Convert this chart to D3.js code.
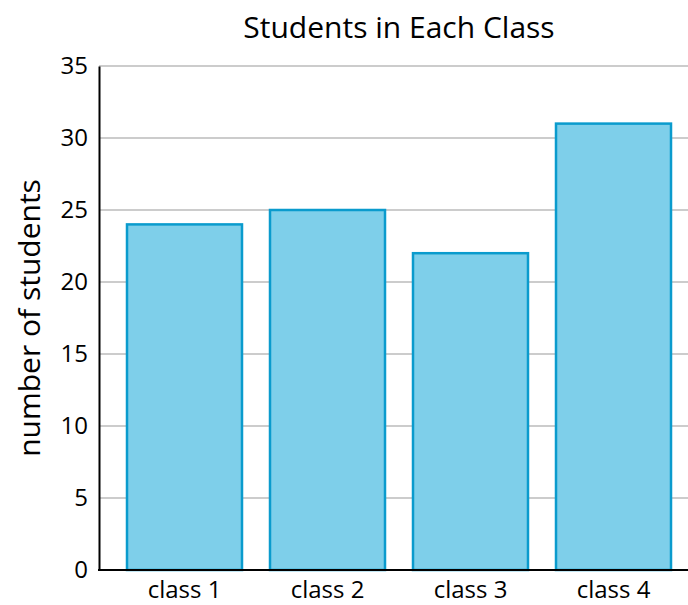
<!DOCTYPE html>
<html><head><meta charset="utf-8">
<script src="https://cdn.jsdelivr.net/npm/d3@7"></script>
<style>body{margin:0;background:#fff}svg{display:block}text{font-family:"Open Sans",sans-serif}</style>
</head><body>
<svg id="c" width="688" height="605"></svg>
<script>
const categories = ["class 1","class 2","class 3","class 4"];
const values = [24, 25, 22, 31];
const yTicks = [0,5,10,15,20,25,30,35];

(function(){
const svg = d3.select("#c");
const mLeft = 99, mRight = 688, mTop = 66, mBottom = 570;
const x = d3.scaleBand().domain(categories).range([mLeft, mLeft + 4*143 + 28]).paddingInner(28/143).paddingOuter(28/143);
const y = d3.scaleLinear().domain([0,35]).range([mBottom, mTop]);

svg.append("g").selectAll("line").data(yTicks.filter(d=>d>0)).join("line")
  .attr("x1", mLeft).attr("x2", mRight).attr("y1", d=>y(d)).attr("y2", d=>y(d))
  .attr("stroke", "#999").attr("stroke-width", 1.2);

svg.append("g").selectAll("rect").data(values).join("rect")
  .attr("x", (d,i)=>x(categories[i])).attr("width", x.bandwidth())
  .attr("y", d=>y(d)).attr("height", d=>mBottom - y(d))
  .attr("fill", "#7ecfea").attr("stroke", "#0a9bcd").attr("stroke-width", 2.5);

const ya = svg.append("g").attr("transform", `translate(${mLeft},0)`)
  .call(d3.axisLeft(y).tickValues(yTicks).tickSize(0).tickPadding(11));
ya.select(".domain").attr("stroke", "#000").attr("stroke-width", 2);
ya.selectAll("text").attr("font-size", 24).attr("fill", "#000").attr("font-family", "Open Sans");

const xa = svg.append("g").attr("transform", `translate(0,${mBottom})`)
  .call(d3.axisBottom(x).tickSize(0).tickPadding(11));
xa.select(".domain").remove();
xa.selectAll("text").attr("font-size", 24).attr("fill", "#000").attr("font-family", "Open Sans");
svg.append("line").attr("x1", mLeft-1).attr("x2", mRight).attr("y1", mBottom).attr("y2", mBottom)
  .attr("stroke", "#000").attr("stroke-width", 2);

svg.append("text").attr("x", 399).attr("y", 38).attr("text-anchor", "middle")
  .attr("font-size", 30).attr("fill", "#000").text("Students in Each Class");
svg.append("text").attr("transform", "translate(40,318) rotate(-90)").attr("text-anchor", "middle")
  .attr("font-size", 30).attr("fill", "#000").text("number of students");
})();
</script>
</body></html>
